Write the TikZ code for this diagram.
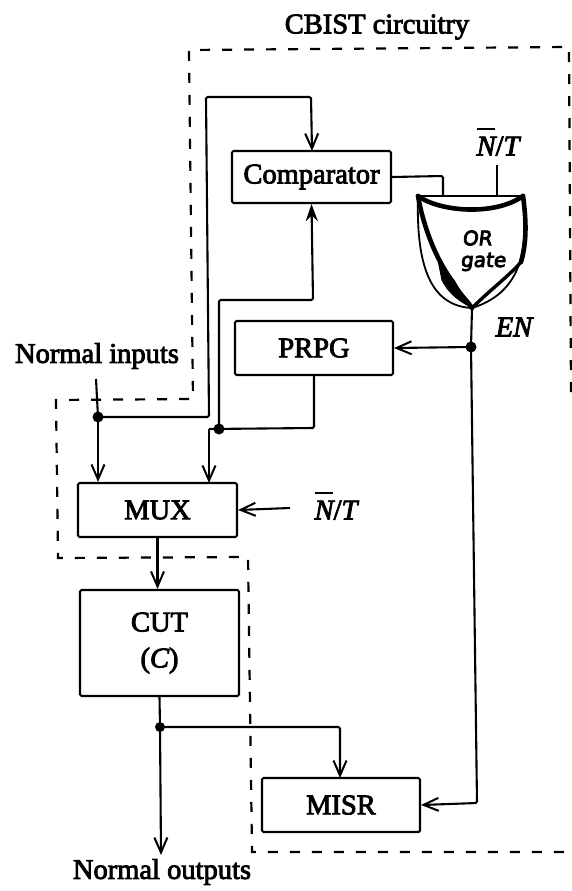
\documentclass[tikz,border=0pt]{standalone}
\usepackage{fontspec}
\setmainfont{Liberation Serif}[FakeBold=3,ItalicFeatures={FakeBold=3}]
\newfontfamily\handfont{DejaVu Sans}[FakeBold=4,FakeSlant=0.12]
\usetikzlibrary{arrows.meta,calc}
\newcommand\barN{\leavevmode\rlap{\raisebox{0.88em}{\rule{0.66em}{0.07em}}}{\itshape N}}
\tikzset{
  lbl/.style={inner sep=0pt,font=\fontsize{28.5}{32}\selectfont},
  blockbox/.style={draw=black,line width=2.1pt,rounded corners=1.5pt,inner sep=0pt,align=center,font=\fontsize{28.5}{37}\selectfont},
  wire/.style={draw=black,line width=2.1pt,rounded corners=1.5pt},
  arr/.style={wire,-{Straight Barb[length=15pt,width=13pt,line width=2pt]}},
  fillarr/.style={wire,-{Stealth[length=17pt,width=12pt]}},
  dot/.style={circle,fill=black,inner sep=0pt,minimum size=11pt},
  frame/.style={draw=black,line width=2.2pt,dash pattern=on 10pt off 12pt},
  thick scribble/.style={draw=black,line width=4.6pt,line cap=round,line join=round},
  hand/.style={inner sep=0pt,font=\fontsize{20}{21}\handfont}
}
\begin{document}
\begin{tikzpicture}[x=1pt,y=-1pt]
\useasboundingbox (0,0) rectangle (572,891);
% dashed frame
\draw[frame] (571,392) -- (569,47) -- (189,50) -- (193,399) -- (56,400) -- (58,558) -- (248,557) -- (252,852) -- (572,852);
% blocks
\node[blockbox,minimum width=159pt,minimum height=52pt] (cmp) at (311.5,177) {Comparator};
\node[blockbox,minimum width=158pt,minimum height=54pt] (prpg) at (314,348) {PRPG};
\node[blockbox,minimum width=159pt,minimum height=54pt] (mux) at (157.5,510) {MUX};
\node[blockbox,minimum width=159pt,minimum height=106pt] (cut) at (159.5,643) {CUT\\[-1pt]({\itshape C})};
\node[blockbox,minimum width=158pt,minimum height=54pt] (misr) at (341,805) {MISR};
% labels
\node[lbl] (cbist) at (377,27) {CBIST circuitry};
\node[lbl] (ninp) at (97,356) {Normal inputs};
\node[lbl] (noutp) at (162,872) {Normal outputs};
\node[lbl] (nt1) at (498,142) {\barN/{\itshape T}};
\node[lbl] (nt2) at (336,506) {\barN/{\itshape T}};
\node[lbl] (en) at (514,327) {\itshape EN};
% gate
\coordinate (gl) at (418,196);
\coordinate (gr) at (523,196);
\coordinate (ga) at (472,308);
\draw[draw=black,line width=1.8pt] (gl) -- (gr)
  .. controls (526,235) and (530,290) .. (ga)
  .. controls (430,306) and (416,265) .. (gl);
\path[thick scribble] (gl) .. controls (440,212) and (495,216) .. (gr);
\path[thick scribble] (gl) .. controls (425,235) and (440,265) .. (453,282)
  .. controls (460,295) and (465,298) .. (ga);
\path[draw=black,fill=black,line width=1pt] (438,260) .. controls (450,278) and (460,290) .. (ga) .. controls (462,302) and (450,296) .. (442,280) -- cycle;
\path[thick scribble] (gr) .. controls (527,225) and (526,245) .. (521,262);
\path[draw=black,line width=3.4pt,line cap=round] (521,262) .. controls (510,275) and (490,290) .. (ga);
\node[hand] (orlbl) at (477,238) {OR};
\node[hand] (gatelbl) at (483,262) {gate};
% named points
\coordinate (ninT) at (96,379);
\coordinate (j1) at (98,417);
\coordinate (j2) at (219,429);
\coordinate (j3) at (471,347);
\coordinate (j4) at (160,727);
\coordinate (cmpin) at (312,151);
\coordinate (noutEnd) at (161,855);
% wires
\draw[wire] (ninT) -- (j1);
\draw[arr] (j1) -- (j1 |- mux.north);
\draw[arr] (j1) -- (209,417) -- (206,97) -- (311,97) -- (cmpin);
\draw[wire] (prpg.south) -- (314,428) -- (209,429);
\draw[arr] (209,429) -- (209,483);
\draw[fillarr] (j2) -- (219,300) -- (313,300) -- (cmp.south);
\draw[wire] (cmp.east) -- (443,176) -- (443,196);
\draw[wire] (497,165) -- (497,196);
\draw[wire] (ga) -- (j3);
\draw[arr] (j3) -- (prpg.east);
\draw[arr] (j3) -- (477,803) -- (misr.east);
\draw[arr] (290,508) -- (mux.east);
\draw[arr] (mux.south) -- (cut.north -| mux.south);
\draw[wire] (cut.south) -- (j4);
\draw[arr] (j4) -- (340,727) -- (340,778);
\draw[arr] (j4) -- (noutEnd);
% junctions
\node[dot] (d1) at (j1) {};
\node[dot] (d2) at (j2) {};
\node[dot] (d3) at (j3) {};
\node[dot,minimum size=10pt] (d4) at (j4) {};
\end{tikzpicture}
\end{document}
